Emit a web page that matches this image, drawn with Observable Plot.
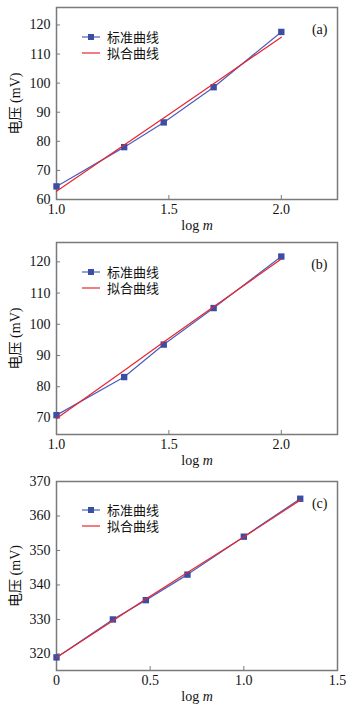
<!DOCTYPE html>
<html><head><meta charset="utf-8">
<script src="https://cdn.jsdelivr.net/npm/d3@7"></script>
<script src="https://cdn.jsdelivr.net/npm/@observablehq/plot@0.6"></script>
<style>
body{margin:0;background:#fff;}
.panel{position:relative;width:353px;}
.panel svg{display:block;font-family:"Liberation Serif","Noto Sans CJK SC",serif !important;}
.legend{position:absolute;left:0;top:0;pointer-events:none;}
</style></head><body><div id="chart"></div>
<script>
// ---- data ----
const logM_ab = [1.0, 1.301, 1.477, 1.699, 2.0];
const logM_c = [0, 0.301, 0.477, 0.699, 1.0, 1.301];
const stdA = [64.5, 78.0, 86.5, 98.6, 117.6];
const fitA = [62.8, 78.7, 88.0, 99.8, 115.8];
const stdB = [70.9, 83.1, 93.5, 105.2, 121.7];
const fitB = [69.8, 85.2, 94.3, 105.6, 120.9];
const stdC = [319.0, 330.0, 335.6, 343.0, 354.0, 365.0];
const fitC = [319.0, 329.6, 335.9, 343.6, 353.9, 364.6];
const seriesNames = ["标准曲线", "拟合曲线"];
const panelLabels = ["(a)", "(b)", "(c)"];
const xTicksAB = [1.0, 1.5, 2.0];
const xTicksC = [0, 0.5, 1.0, 1.5];
const yTicksA = [60, 70, 80, 90, 100, 110, 120];
const yTicksB = [70, 80, 90, 100, 110, 120];
const yTicksC = [320, 330, 340, 350, 360, 370];
const xLabel = "log m";
const yLabel = "电压 (mV)";

const BLUE = "#4a5fbf";
const BLUE_D = "#3a4ea6";
const RED = "#e8252c";
const GRAY = "#7a7a7a";

function panel({x, std, fit, xDomain, yDomain, xTicks, yTicks, xFmt, label, height, marginTop, marginBottom, legendTop}) {
  const rows = x.map((v, i) => ({x: v, std: std[i], fit: fit[i]}));
  const plot = Plot.plot({
    width: 353, height, marginLeft: 56, marginRight: 16, marginTop, marginBottom,
    style: {fontSize: "14px", color: "#111", background: "#fff"},
    x: {domain: xDomain},
    y: {domain: yDomain},
    marks: [
      Plot.frame({stroke: GRAY, strokeWidth: 1.5}),
      Plot.axisX(xTicks, {tickSize: -4, tickPadding: 9, tickFormat: xFmt, stroke: GRAY, fontSize: 14,
        label: xLabel, labelAnchor: "center", labelArrow: "none", labelOffset: 30}),
      Plot.axisY(yTicks, {tickSize: -4, tickPadding: 10, stroke: GRAY, fontSize: 14,
        label: yLabel, labelAnchor: "center", labelArrow: "none", labelOffset: 46}),
      Plot.line(rows, {x: "x", y: "std", stroke: BLUE, strokeWidth: 1.2}),
      Plot.dot(rows, {x: "x", y: "std", symbol: "square", r: 3.6, fill: BLUE_D}),
      Plot.line(rows, {x: "x", y: "fit", stroke: RED, strokeWidth: 1.2}),
      Plot.text([label], {text: d => d, frameAnchor: "top-right", dx: -10, dy: 17, fontSize: 14})
    ]
  });
  // italic m in x label
  d3.select(plot).selectAll("text").filter(function() { return this.textContent === xLabel; })
    .each(function() {
      const t = d3.select(this);
      t.text("");
      t.append("tspan").text("log ");
      t.append("tspan").attr("font-style", "italic").text("m");
    });
  const wrap = d3.create("div").attr("class", "panel");
  wrap.node().appendChild(plot);
  const lg = wrap.append("svg").attr("class", "legend").attr("width", 353).attr("height", 80)
    .style("font-size", "13px");
  const rowsL = [{name: seriesNames[0], color: BLUE, marker: true}, {name: seriesNames[1], color: RED, marker: false}];
  rowsL.forEach((r, i) => {
    const y = legendTop + i * 16;
    lg.append("line").attr("x1", 82).attr("x2", 100).attr("y1", y).attr("y2", y)
      .attr("stroke", r.color).attr("stroke-width", 1.2);
    if (r.marker) lg.append("rect").attr("x", 88).attr("y", y - 3).attr("width", 6).attr("height", 6).attr("fill", BLUE_D);
    lg.append("text").attr("x", 107).attr("y", y).attr("dy", "0.35em").attr("fill", "#111").text(r.name);
  });
  return wrap.node();
}

const fmt1 = d => d.toFixed(1);
const fmtC = d => d === 0 ? "0" : d.toFixed(1);
const chart = document.getElementById("chart");
chart.appendChild(panel({x: logM_ab, std: stdA, fit: fitA, xDomain: [1, 2.25], yDomain: [60, 126], xTicks: xTicksAB, yTicks: yTicksA, xFmt: fmt1, label: panelLabels[0], height: 235, marginTop: 7, marginBottom: 36, legendTop: 37}));
chart.appendChild(panel({x: logM_ab, std: stdB, fit: fitB, xDomain: [1, 2.25], yDomain: [64.7, 126.2], xTicks: xTicksAB, yTicks: yTicksB, xFmt: fmt1, label: panelLabels[1], height: 235, marginTop: 7, marginBottom: 36, legendTop: 37}));
chart.appendChild(panel({x: logM_c, std: stdC, fit: fitC, xDomain: [0, 1.5], yDomain: [315.2, 370], xTicks: xTicksC, yTicks: yTicksC, xFmt: fmtC, label: panelLabels[2], height: 237, marginTop: 11, marginBottom: 37, legendTop: 40}));
</script></body></html>
